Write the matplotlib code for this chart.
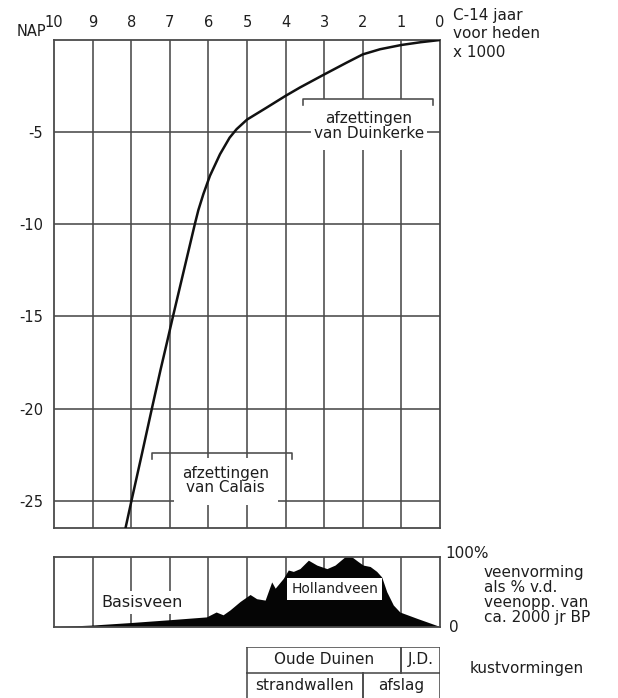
import matplotlib
matplotlib.use("Agg")
import matplotlib.pyplot as plt
from matplotlib import transforms
from matplotlib.patches import Rectangle

plt.rcParams['font.family'] = ['DejaVu Sans']

# ---------------- data ----------------
# relative sea level curve (C-14 kyr BP vs m NAP)
curve_age = [0.0, 0.5, 1.0, 1.55, 2.0, 2.42, 3.0, 3.63, 4.0, 4.5, 5.0, 5.27, 5.45,
             5.7, 5.96, 6.13, 6.26, 6.35, 6.91, 7.08, 7.24, 7.46, 7.72, 8.0, 8.18]
curve_nap = [0.0, -0.12, -0.27, -0.5, -0.78, -1.23, -1.87, -2.58, -3.03, -3.68, -4.32,
             -4.84, -5.3, -6.2, -7.37, -8.36, -9.23, -9.98, -14.93, -16.47,
             -17.9, -19.96, -22.44, -25.07, -26.8]

# peat formation as % of peat area ca. 2000 BP
veen_age = [10, 9, 8, 7, 6.05, 5.8, 5.62, 5.44, 5.18, 4.92, 4.75, 4.53, 4.36, 4.27, 4.06,
            3.93, 3.8, 3.63, 3.41, 3.19, 2.93, 2.72, 2.46, 2.29, 2.12, 1.99, 1.81, 1.64,
            1.51, 1.38, 1.21, 1.04, 0.6, 0.09, 0]
veen_pct = [0, 2.4, 6, 10, 14, 21, 17, 24, 36, 46, 40, 38, 64, 55, 69,
            81, 79, 83, 95, 88, 83, 88, 100, 100, 93, 88, 86, 79,
            71, 50, 31, 21, 12, 2, 0]

x_ticks = [10, 9, 8, 7, 6, 5, 4, 3, 2, 1, 0]
x_tick_labels = ['10', '9', '8', '7', '6', '5', '4', '3', '2', '1', '0']
y_ticks = [-5, -10, -15, -20, -25]
y_tick_labels = ['-5', '-10', '-15', '-20', '-25']

# deposits brackets: (label, age_start, age_end, level)
duinkerke = ('afzettingen\nvan Duinkerke', 3.54, 0.17, -3.18)
calais = ('afzettingen\nvan Calais', 7.47, 3.83, -22.4)

# coastal formations table: rows of (label, age_from, age_to)
kust_row1 = [('Oude Duinen', 5, 1), ('J.D.', 1, 0)]
kust_row2 = [('strandwallen', 5, 2), ('afslag', 2, 0)]

# ---------------- figure ----------------
W, H = 618, 698
fig = plt.figure(figsize=(W / 100, H / 100), dpi=100)
fig.patch.set_facecolor('white')

LC = '#4a4a4a'
TC = '#1e1e1e'
FS = 11
GLW = 1.15

def fx(px):
    return px / W

def fy(py):
    return 1 - py / H

ax_left, ax_right = 54, 440
ax = fig.add_axes([fx(ax_left), fy(528.3), (ax_right - ax_left) / W, (528.3 - 40) / H])
ax.set_xlim(10, 0)
ax.set_ylim(-26.5, 0)
for s in ax.spines.values():
    s.set_color(LC)
    s.set_linewidth(1.3)
ax.xaxis.tick_top()
ax.set_xticks(x_ticks)
ax.set_xticklabels(x_tick_labels, fontsize=10.5, color=TC)
ax.set_yticks(y_ticks)
ax.set_yticklabels(y_tick_labels, fontsize=10.5, color=TC)
ax.tick_params(axis='x', length=0, pad=7)
ax.tick_params(axis='y', length=0, pad=8)
for a in x_ticks[1:-1]:
    ax.axvline(a, color=LC, lw=GLW, zorder=1)
for v in y_ticks:
    ax.axhline(v, color=LC, lw=GLW, zorder=1)

# NAP label
tr = transforms.offset_copy(transforms.blended_transform_factory(ax.transAxes, ax.transData),
                            fig=fig, x=-8, y=8, units='dots')
ax.text(0, 0, 'NAP', transform=tr, ha='right', va='center', fontsize=10.5, color=TC)

# right-side axis caption
fig.text(fx(453), fy(34), 'C-14 jaar\nvoor heden\nx 1000', ha='left', va='center',
         fontsize=FS, color=TC, linespacing=1.27)

# curve
ax.plot(curve_age, curve_nap, color='#111111', lw=1.8, zorder=5,
        solid_capstyle='round', solid_joinstyle='round')

# brackets with white text boxes
def bracket(a, item, box_x, box_y, text_y):
    label, a0, a1, lev = item
    tick = 0.35
    a.add_patch(Rectangle((box_x[0], box_y[0]), box_x[1] - box_x[0], box_y[1] - box_y[0],
                          facecolor='white', edgecolor='none', zorder=3))
    a.plot([a0, a0, a1, a1], [lev - tick, lev, lev, lev - tick], color=LC, lw=GLW, zorder=4)
    a.text((box_x[0] + box_x[1]) / 2, text_y, label, ha='center', va='center',
           fontsize=FS, color=TC, zorder=6, linespacing=0.93)

bracket(ax, duinkerke, (3.34, 0.34), (-3.18, -5.97), -4.67)
bracket(ax, calais, (6.9, 4.2), (-22.7, -25.25), -23.89)

# ---------------- peat panel ----------------
vx = fig.add_axes([fx(ax_left), fy(626.7), (ax_right - ax_left) / W, 70 / H])
vx.set_xlim(10, 0)
vx.set_ylim(0, 100)
vx.set_xticks([])
vx.set_yticks([])
for s in vx.spines.values():
    s.set_color(LC)
    s.set_linewidth(1.3)
for a in x_ticks[1:-1]:
    vx.axvline(a, color=LC, lw=GLW, zorder=1)
vx.fill_between(veen_age, 0, veen_pct, color='#050505', lw=0, zorder=2)
vx.text(7.72, 35, 'Basisveen', ha='center', va='center', fontsize=11.5, color=TC, zorder=4,
        bbox=dict(facecolor='white', edgecolor='none', pad=3))
vx.text(2.73, 54, 'Hollandveen', ha='center', va='center', fontsize=10, color=TC, zorder=4,
        bbox=dict(facecolor='white', edgecolor='none', pad=3))

fig.text(fx(445), fy(553), '100%', ha='left', va='center', fontsize=FS, color=TC)
fig.text(fx(449), fy(628), '0', ha='left', va='center', fontsize=FS, color=TC)
fig.text(fx(484), fy(595), 'veenvorming\nals % v.d.\nveenopp. van\nca. 2000 jr BP',
         ha='left', va='center', fontsize=FS, color=TC, linespacing=1.0)

# ---------------- coastal formations table ----------------
tx = fig.add_axes([fx(ax_left), fy(700), (ax_right - ax_left) / W, 53.3 / H])
tx.set_xlim(10, 0)
tx.set_ylim(-0.05, 2)
tx.axis('off')
for row, (ylo, yhi) in ((kust_row1, (1, 2)), (kust_row2, (0, 1))):
    for label, a0, a1 in row:
        tx.plot([a0, a0], [ylo, yhi], color=LC, lw=GLW)
        tx.plot([a1, a1], [ylo, yhi], color=LC, lw=GLW)
        tx.plot([a0, a1], [yhi, yhi], color=LC, lw=GLW)
        tx.text((a0 + a1) / 2, (ylo + yhi) / 2, label, ha='center', va='center',
                fontsize=FS, color=TC)
fig.text(fx(470), fy(669), 'kustvormingen', ha='left', va='center', fontsize=FS, color=TC)

fig.savefig('out.png', dpi=100, facecolor='white')
